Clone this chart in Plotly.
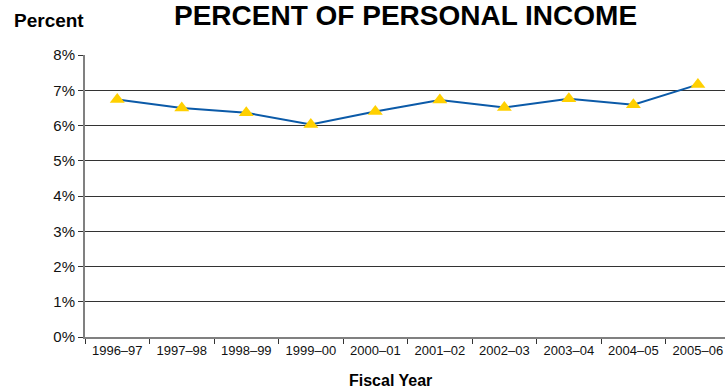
import plotly.graph_objects as go

# Fiscal years and state/local tax share of personal income (%)
fiscal_years = ["1996–97", "1997–98", "1998–99", "1999–00", "2000–01",
                "2001–02", "2002–03", "2003–04", "2004–05", "2005–06"]
percent_of_income = [6.74, 6.50, 6.36, 6.03, 6.40, 6.72, 6.51, 6.76, 6.59, 7.16]
y_ticks = [0, 1, 2, 3, 4, 5, 6, 7, 8]
y_tick_labels = [f"{v}%" for v in y_ticks]

W, H = 725, 391
M_L, M_R, M_T, M_B = 85, 0, 55, 54
PW, PH = W - M_L - M_R, H - M_T - M_B


def px_x(p):
    return (p - M_L) / PW


def px_y(p):
    return (H - M_B - p) / PH


fig = go.Figure()
fig.add_trace(go.Scatter(
    x=fiscal_years,
    y=percent_of_income,
    mode="lines+markers",
    line=dict(color="#0b5aa8", width=2),
    marker=dict(symbol="triangle-up", size=13, color="#ffd000",
                line=dict(width=0)),
    cliponaxis=False,
    showlegend=False,
))

fig.update_layout(
    width=W, height=H,
    margin=dict(l=M_L, r=M_R, t=M_T, b=M_B),
    paper_bgcolor="white", plot_bgcolor="white",
    font=dict(family="Liberation Sans, Arial, sans-serif", color="#111"),
    xaxis=dict(
        type="category",
        # the last category runs slightly past the right edge
        range=[-0.5, 9.42],
        tickfont=dict(size=13, color="#111"),
        showgrid=False, zeroline=False,
        showline=True, linecolor="#808080", linewidth=2,
        ticks="outside", ticklen=5, tickcolor="#333", tickwidth=1,
        tickson="boundaries",
    ),
    yaxis=dict(
        range=[0, 8],
        tickmode="array",
        tickvals=y_ticks,
        ticktext=y_tick_labels,
        tickfont=dict(size=15, color="#111"),
        showgrid=True, gridcolor="#333", gridwidth=1,
        zeroline=False,
        showline=True, linecolor="#808080", linewidth=2,
        ticks="outside", ticklen=5, tickcolor="#333", tickwidth=1,
    ),
    annotations=[
        dict(text="<b>PERCENT OF PERSONAL INCOME</b>", xref="paper", yref="paper",
             x=px_x(405), y=px_y(15),
             xanchor="center", yanchor="middle", showarrow=False,
             font=dict(size=28, color="#000")),
        dict(text="<b>Percent</b>", xref="paper", yref="paper",
             x=px_x(49), y=px_y(20),
             xanchor="center", yanchor="middle", showarrow=False,
             font=dict(size=19, color="#000")),
        dict(text="<b>Fiscal Year</b>", xref="paper", yref="paper",
             x=px_x(390), y=px_y(380),
             xanchor="center", yanchor="middle", showarrow=False,
             font=dict(size=16, color="#000")),
    ],
)

fig.write_html("out.html")
